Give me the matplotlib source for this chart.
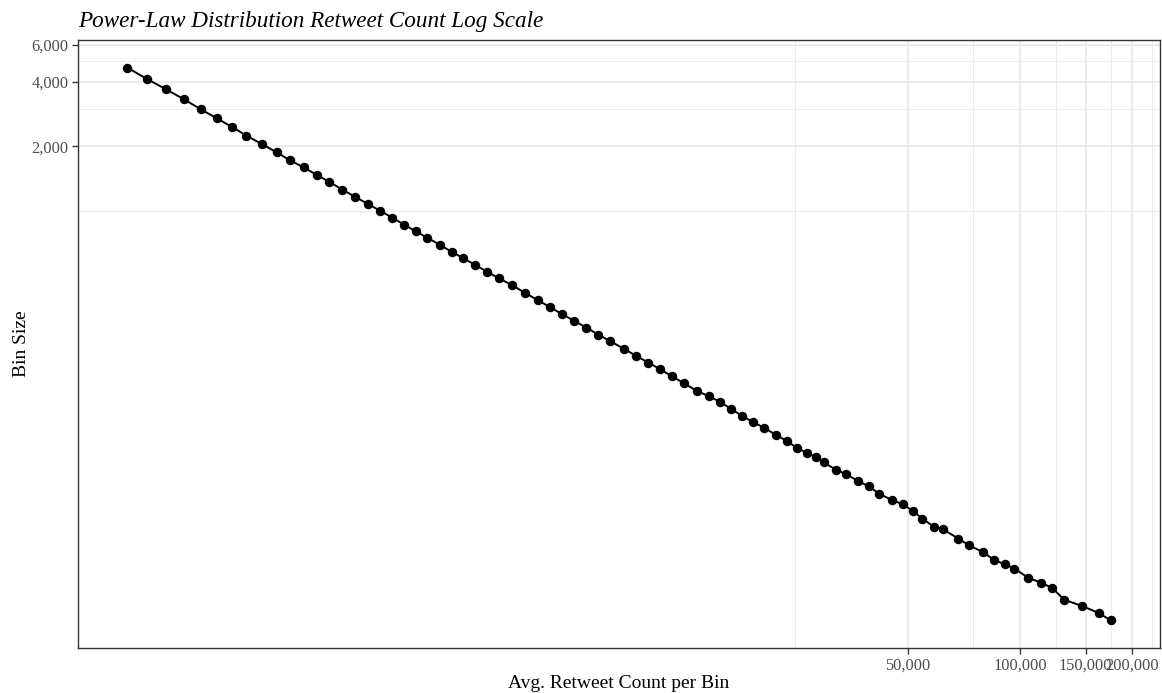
import matplotlib
matplotlib.use("Agg")
import matplotlib.pyplot as plt
from matplotlib.ticker import FixedLocator, FuncFormatter, NullFormatter
import numpy as np

# log-binned retweet counts: mean count in each bin and how many tweets fell in it
avg_retweets = [
    406, 459, 516, 577, 640, 705, 775, 846, 932, 1020,
    1110, 1205, 1305, 1411, 1529, 1657, 1792, 1929, 2081, 2244,
    2408, 2587, 2792, 3006, 3228, 3470, 3736, 4023, 4350, 4714,
    5125, 5518, 5932, 6397, 6890, 7420, 7988, 8690, 9340, 10090,
    10830, 11700, 12580, 13600, 14640, 15700, 16770, 18010, 19280, 20590,
    22170, 23730, 25340, 26890, 28420, 29810, 32090, 34280, 36810, 39320,
    42010, 45320, 48570, 51660, 54730, 58690, 62290, 68330, 72940, 79730,
    85310, 90900, 96500, 105200, 114000, 122000, 131300, 146700, 162300, 175000,
]
bin_size = [
    4676, 4136, 3700, 3319, 2978, 2710, 2465, 2246, 2050, 1874,
    1719, 1593, 1472, 1363, 1255, 1159, 1074, 999, 926, 858,
    798, 745, 691, 640, 598, 556, 517, 481, 448, 412,
    379, 352, 327, 304, 283, 262, 244, 225, 209, 194,
    181, 167, 155, 143, 135, 127, 118, 109, 102, 96,
    89, 83, 77, 73, 70, 66, 61, 58, 54, 51,
    47, 44, 42, 39, 36, 33, 32, 29, 27, 25,
    23, 22, 21, 19, 18, 17, 15, 14, 13, 12,
]

x_breaks = [50000, 100000, 150000, 200000]
x_minor = [25000, 75000, 125000, 175000, 225000]
y_breaks = [2000, 4000, 6000]
y_minor = [1000, 3000, 5000]

plt.rcParams["font.family"] = ["Liberation Serif", "DejaVu Serif"]

fig = plt.figure(figsize=(11.62, 6.93), dpi=100)
ax = fig.add_axes([78 / 1162, 45 / 693, 1082 / 1162, 608 / 693])

ax.set_xscale("log")
ax.set_yscale("log")

ax.plot(avg_retweets, bin_size, color="black", lw=1.4, zorder=3)
ax.plot(avg_retweets, bin_size, "o", color="black", ms=5.8, zorder=4)

# 5% padding on each side in log space, like ggplot's default expansion
lx = np.log10([min(avg_retweets), max(avg_retweets)])
ly = np.log10([min(bin_size), max(bin_size)])
px = 0.05 * (lx[1] - lx[0])
py = 0.05 * (ly[1] - ly[0])
ax.set_xlim(10 ** (lx[0] - px), 10 ** (lx[1] + px))
ax.set_ylim(10 ** (ly[0] - py), 10 ** (ly[1] + py))

comma = FuncFormatter(lambda v, _: f"{int(v):,}")
ax.xaxis.set_major_locator(FixedLocator(x_breaks))
ax.xaxis.set_minor_locator(FixedLocator(x_minor))
ax.yaxis.set_major_locator(FixedLocator(y_breaks))
ax.yaxis.set_minor_locator(FixedLocator(y_minor))
ax.xaxis.set_major_formatter(comma)
ax.yaxis.set_major_formatter(comma)
ax.xaxis.set_minor_formatter(NullFormatter())
ax.yaxis.set_minor_formatter(NullFormatter())

ax.grid(True, which="major", color="#ebebeb", lw=1.3, zorder=0)
ax.grid(True, which="minor", color="#ebebeb", lw=0.7, zorder=0)
ax.set_axisbelow(True)

ax.tick_params(which="major", length=4, width=1, color="#333333",
               labelcolor="#4d4d4d", labelsize=11.8, pad=3)
ax.tick_params(which="minor", length=0)
for s in ax.spines.values():
    s.set_color("#333333")
    s.set_linewidth(1)

ax.set_xlabel("Avg. Retweet Count per Bin", fontsize=14, labelpad=1)
ax.set_ylabel("Bin Size", fontsize=14, labelpad=1)
fig.text(78 / 1162, 1 - 21 / 693, "Power-Law Distribution Retweet Count Log Scale",
         fontsize=16.7, style="italic", va="center", ha="left")

fig.savefig("out.png", dpi=100)
